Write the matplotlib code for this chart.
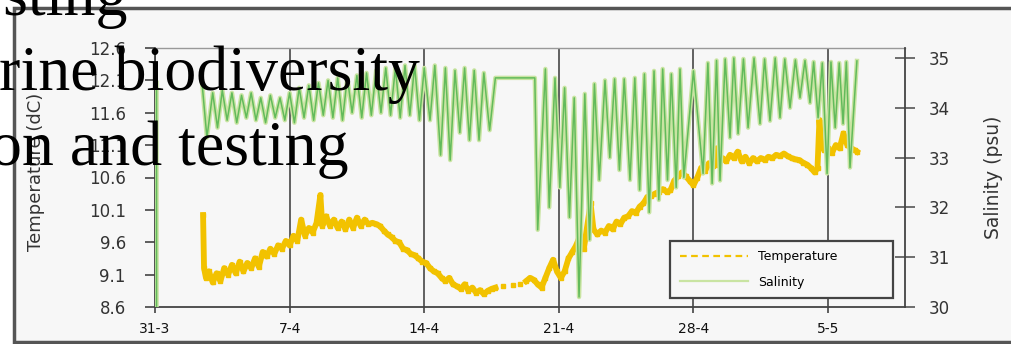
import numpy as np
import matplotlib
matplotlib.use("Agg")
import matplotlib.pyplot as plt
from matplotlib.patches import Rectangle
from matplotlib.lines import Line2D

# ---------------- data (days after 31 March) ----------------
week_days = [0, 7, 14, 21, 28, 35]
week_labels = ["31-3", "7-4", "14-4", "21-4", "28-4", "5-5"]
temp_ticks = [8.6, 9.1, 9.6, 10.1, 10.6, 11.1, 11.6, 12.1, 12.6]
sal_ticks = [30, 31, 32, 33, 34, 35]

temp_day = [2.5, 2.55, 2.65, 2.8, 3.0, 3.2, 3.4, 3.6, 3.8, 4.0, 4.2, 4.4, 4.6, 4.8,
            5.0, 5.2, 5.4, 5.6, 5.8, 6.0, 6.2, 6.4, 6.6, 6.8, 7.0, 7.2, 7.4, 7.6,
            7.8, 8.0, 8.2, 8.4, 8.6, 8.7, 8.9, 9.1, 9.3, 9.5, 9.7, 9.9, 10.1, 10.3,
            10.5, 10.7, 10.9, 11.1, 11.3, 11.5, 11.7, 11.9, 12.1, 12.3, 12.5, 12.7,
            12.9, 13.1, 13.3, 13.5, 13.7, 13.9, 14.1, 14.3, 14.5, 14.7, 14.9, 15.1,
            15.3, 15.5, 15.7, 15.9, 16.1, 16.3, 16.5, 16.7, 16.9, 17.1, 17.3, 17.5,
            17.7, None, 18.1, None, 18.6, None, 19.0, None, 19.3, 19.5, 19.7, 19.9,
            20.1, 20.3, 20.5, 20.7, 20.9, 21.1, 21.3, 21.5, 21.7, 21.9, 22.1, 22.3,
            22.5, 22.65, 22.8, 23.0, 23.2, 23.4, 23.6, 23.8, 24.0, 24.2, 24.4, 24.6,
            24.8, 25.0, 25.2, 25.4, 25.6, 25.8, 26.0, 26.2, 26.4, 26.6, 26.8, 27.0,
            27.2, 27.4, 27.6, 27.8, 28.0, 28.2, 28.4, 28.6, 28.8, 29.0, 29.2, 29.3,
            29.5, 29.7, 29.9, 30.1, 30.3, 30.5, 30.7, 30.9, 31.1, 31.3, 31.5, 31.7,
            31.9, 32.1, 32.3, 32.5, 32.7, 32.9, 33.1, 33.3, 33.5, 33.7, 33.9, 34.1,
            34.3, 34.45, 34.55, 34.65, 34.8, 35.0, 35.2, 35.4, 35.6, 35.8, 36.0,
            36.2, 36.4, 36.5]
temp_val = [10.02, 9.2, 9.05, 9.15, 8.98, 9.12, 9.0, 9.2, 9.1, 9.25, 9.12, 9.3, 9.15, 9.28,
            9.2, 9.35, 9.22, 9.45, 9.38, 9.5, 9.42, 9.55, 9.5, 9.62, 9.55, 9.7, 9.62, 9.95,
            9.7, 9.82, 9.75, 9.9, 10.33, 9.85, 10.0, 9.85, 9.95, 9.82, 9.92, 9.8, 9.95, 9.82,
            9.98, 9.85, 9.95, 9.88, 9.9, 9.88, 9.85, 9.78, 9.72, 9.68, 9.62, 9.6,
            9.5, 9.48, 9.42, 9.4, 9.35, 9.3, 9.28, 9.2, 9.15, 9.12, 9.05, 9.0,
            9.05, 8.95, 8.92, 8.88, 8.95, 8.85, 8.9, 8.82, 8.86, 8.8, 8.85, 8.88,
            8.9, None, 8.93, None, 8.94, None, 8.96, None, 9.0, 9.05, 9.02, 8.95,
            8.9, 9.05, 9.2, 9.33, 9.15, 9.05, 9.15, 9.35, 9.45, 9.55, 9.7, 9.5,
            9.9, 10.2, 9.8, 9.72, 9.78, 9.75, 9.85, 9.8, 9.92, 9.88, 9.98, 10.0,
            10.08, 10.05, 10.15, 10.2, 10.3, 10.32, 10.35, 10.38, 10.42, 10.38, 10.4, 10.55,
            10.62, 10.68, 10.62, 10.55, 10.48, 10.6, 10.75, 10.7, 10.82, 10.78, 11.05, 10.8,
            10.9, 10.85, 10.95, 10.9, 11.0, 10.85, 10.92, 10.82, 10.9, 10.85, 10.9, 10.87,
            10.92, 10.9, 10.95, 10.93, 10.97, 10.93, 10.9, 10.88, 10.87, 10.83, 10.8, 10.75,
            10.68, 10.75, 11.49, 11.1, 11.02, 11.05, 10.98, 11.1, 11.05, 11.28, 11.1,
            11.05, 11.02, 11.0]

sal_day = [0.08, 0.08, None,
           2.45, 2.7, 3.0, 3.25, 3.5, 3.75, 4.0, 4.25, 4.5, 4.75, 5.0, 5.25, 5.5, 5.75,
           6.0, 6.25, 6.5, 6.75, 7.0, 7.25, 7.5, 7.75, 8.0, 8.25, 8.5, 8.75, 9.0, 9.25,
           9.5, 9.75, 10.0, 10.25, 10.5, 10.75, 11.0, 11.25, 11.5, 11.75, 12.0, 12.25,
           12.5, 12.75, 13.0, 13.25, 13.5, 13.75, 14.0, 14.3, 14.55, 14.85, 15.1, 15.35,
           15.6, 15.85, 16.1, 16.35, 16.6, 16.85, 17.1, 17.4, 17.7, 19.75,
           19.9, 20.3, 20.5, 20.8, 21.05, 21.3, 21.55, 21.8, 22.05, 22.35, 22.6, 22.85,
           23.1, 23.4, 23.65, 23.9, 24.15, 24.4, 24.7, 24.95, 25.2, 25.45, 25.7, 25.95,
           26.2, 26.4, 26.65, 26.85, 27.1, 27.3, 27.5, 28.0, 28.5, 28.75, 28.97, 29.2,
           29.38, 29.65, 29.9, 30.1, 30.32, 30.6, 30.84, 31.15, 31.46, 31.7, 31.98,
           32.25, 32.5, 32.75, 33.02, 33.3, 33.54, 33.8, 34.06, 34.25, 34.48, 34.7,
           34.95, 35.15, 35.37, 35.58, 35.78, 35.95, 36.14, 36.5]
sal_val = [30.0, 34.5, None,
           34.48, 33.4, 34.3, 33.6, 34.35, 33.75, 34.3, 33.7, 34.25, 33.8, 34.3, 33.75, 34.2, 33.7,
           34.25, 33.8, 34.2, 33.75, 34.3, 33.7, 34.4, 33.8, 34.45, 33.75, 34.5, 33.85, 34.55, 33.8,
           34.6, 33.75, 34.6, 33.9, 34.65, 33.8, 34.7, 33.85, 34.75, 33.9, 34.8, 33.85,
           34.8, 33.8, 34.85, 33.85, 34.85, 33.75, 34.8, 33.75, 34.85, 33.05, 34.8, 32.95,
           34.75, 33.5, 34.8, 33.35, 34.75, 33.35, 34.7, 33.55, 34.6, 34.6,
           31.55, 34.78, 32.0, 34.6, 32.4, 34.4, 31.8, 34.2, 30.2, 34.28, 31.35, 34.48,
           32.55, 34.55, 33.0, 34.58, 32.75, 34.58, 32.55, 34.6, 32.35, 34.68, 31.9, 34.74,
           32.15, 34.78, 32.55, 34.68, 32.4, 34.78, 32.6, 34.74, 32.68, 34.9, 32.48, 34.95,
           32.54, 34.98, 33.4, 35.0, 33.48, 34.98, 33.6, 35.0, 33.68, 34.98, 33.74,
           35.0, 33.8, 34.98, 34.0, 34.96, 34.2, 34.95, 34.1, 34.92, 33.8, 34.9,
           32.68, 34.92, 33.6, 34.9, 33.68, 34.92, 32.8, 34.94]

# ---------------- figure ----------------
W, H = 1011, 344
fig = plt.figure(figsize=(W / 100, H / 100), dpi=100, facecolor="white")

# outer framed panel
fig.patches.append(Rectangle((14 / W, 2 / H), 1.2, (342 - 8) / H, transform=fig.transFigure,
                             facecolor="#f7f7f7", edgecolor="#555555", lw=2.5, zorder=-5))

ax1 = fig.add_axes([155 / W, 37 / H, 750 / W, 259 / H])
ax1.set_facecolor("#f7f7f7")
ax2 = ax1.twinx()

td = np.array(temp_day, dtype=float)
tv = np.array(temp_val, dtype=float)
sd = np.array(sal_day, dtype=float)
sv = np.array(sal_val, dtype=float)

ax1.plot(td, tv, color="#f2c200", lw=4.2, marker="s", ms=3.2, mec="#f2c200", zorder=3)
ax2.plot(sd, sv, color="#c9e4a2", lw=3.2, zorder=2)
ax2.plot(sd, sv, color="#62bb5b", lw=1.1, zorder=3)

ax1.set_xlim(0, 39)
ax1.set_ylim(8.6, 12.6)
ax2.set_ylim(30, 35.2)

ax1.set_xticks(week_days)
ax1.set_xticklabels(week_labels)
ax1.set_yticks(temp_ticks)
ax1.set_yticklabels(["%.1f" % v for v in temp_ticks])
ax2.set_yticks(sal_ticks)
ax2.set_yticklabels([str(v) for v in sal_ticks])

ax1.grid(axis="x", color="#555555", lw=1.3, zorder=1)
ax1.set_axisbelow(True)

ax1.tick_params(axis="y", direction="out", length=7, width=1.2, color="#444444",
                labelsize=12, labelcolor="#333333", pad=14)
ax1.tick_params(axis="x", direction="out", length=4, width=1.2, color="#444444",
                labelsize=10, labelcolor="#111111", pad=7)
ax2.tick_params(axis="y", direction="inout", length=14, width=1.2, color="#555555",
                labelsize=12, labelcolor="#333333", pad=10)

for sp in ["left", "bottom"]:
    ax1.spines[sp].set_color("#444444")
    ax1.spines[sp].set_linewidth(1.3)
ax1.spines["top"].set_color("#999999")
ax1.spines["top"].set_linewidth(1.0)
ax1.spines["right"].set_visible(False)
for sp in ["left", "bottom", "top"]:
    ax2.spines[sp].set_visible(False)
ax2.spines["right"].set_color("#444444")
ax2.spines["right"].set_linewidth(1.3)

ax1.set_ylabel("Temperature (dC)", fontsize=13, color="#333333")
ax1.yaxis.set_label_coords(-0.147, 0.52)
ax2.set_ylabel("Salinity (psu)", fontsize=13.5, color="#333333")
ax2.yaxis.set_label_coords(1.105, 0.5)

handles = [Line2D([], [], color="#f2c200", lw=1.6, ls=(0, (3, 2))),
           Line2D([], [], color="#c9e4a2", lw=1.6)]
leg = ax2.legend(handles, ["Temperature", "Salinity"], loc="lower left",
                 bbox_to_anchor=(0.687, 0.035, 0.297, 0.231), mode="expand",
                 borderaxespad=0, fancybox=False, edgecolor="#444444",
                 facecolor="#f7f7f7", framealpha=1, handlelength=5.5,
                 fontsize=9, labelspacing=1.0, borderpad=0.75)
leg.get_frame().set_linewidth(1.6)

# overlaid serif text (partly cut off at the left edge)
serif = ["Liberation Serif", "DejaVu Serif"]
fig.text(-43 / W, 1 - 15 / H, "testing", fontsize=46, family=serif, va="baseline", ha="left")
fig.text(-79 / W, 1 - 90 / H, "marine biodiversity", fontsize=46, family=serif,
         va="baseline", ha="left")
fig.text(-10 / W, 1 - 165 / H, "on and testing", fontsize=46, family=serif,
         va="baseline", ha="left")

fig.savefig("out.png", dpi=100, facecolor="white")
